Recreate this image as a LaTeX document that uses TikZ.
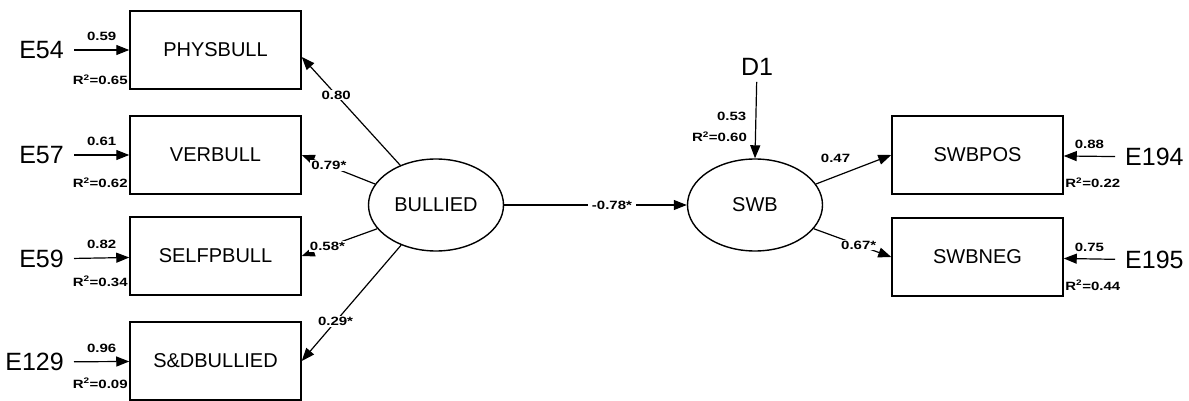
\documentclass[tikz,border=0pt]{standalone}
\usepackage{fontspec}
\setmainfont{Liberation Sans}
\newfontfamily\coeffont[FakeStretch=1.25]{Liberation Sans}
\usetikzlibrary{arrows.meta,shapes.geometric}

\tikzset{
  obs/.style={draw, line width=1.5pt, minimum width=171pt, minimum height=78pt, font=\fontsize{20}{20}\selectfont},
  lat/.style={ellipse, draw, line width=1.4pt, minimum width=135pt, minimum height=92pt, font=\fontsize{20}{20}\selectfont},
  err/.style={inner xsep=10pt, inner ysep=6pt, font=\fontsize{25}{25}\selectfont},
  coef/.style={inner sep=1pt, font=\coeffont\bfseries\fontsize{12}{12}\selectfont},
  link/.style={-{Triangle[length=13pt,width=10pt]}, line width=1.2pt},
}

\begin{document}
\begin{tikzpicture}[x=1pt,y=-1pt]
\clip (0,0) rectangle (1189,401);
% indicators of BULLIED
\node[obs] (phys) at (215.5,50) {PHYSBULL};
\node[obs] (verb) at (215.5,155) {VERBULL};
\node[obs] (selfp) at (215.5,256) {SELFPBULL};
\node[obs] (sdb) at (215.5,361) {S\&DBULLIED};
% latent variables
\node[lat] (bull) at (436,205) {BULLIED};
\node[lat] (swb) at (755,205) {SWB};
% indicators of SWB
\node[obs] (swbpos) at (977.5,155) {SWBPOS};
\node[obs] (swbneg) at (977.5,257) {SWBNEG};
% errors
\node[err, anchor=east] (e54) at (74,50) {E54};
\node[err, anchor=east] (e57) at (74,155) {E57};
\node[err, anchor=east] (e59) at (74,259) {E59};
\node[err, anchor=east] (e129) at (74,362) {E129};
\node[err, anchor=west] (e194) at (1115,157) {E194};
\node[err, anchor=west] (e195) at (1115,260) {E195};
\node[err] (d1) at (757,67) {D1};

\draw[link] (e54) -- (phys) node[coef, midway, above=8pt] {0.59}
  node[coef, pos=1, anchor=north east, yshift=-23pt] {R\textsuperscript{2}=0.65};
\draw[link] (e57) -- (verb) node[coef, midway, above=8pt] {0.61}
  node[coef, pos=1, anchor=north east, yshift=-21pt] {R\textsuperscript{2}=0.62};
\draw[link] (e59) -- (selfp) node[coef, midway, above=8pt] {0.82}
  node[coef, pos=1, anchor=north east, yshift=-17pt] {R\textsuperscript{2}=0.34};
\draw[link] (e129) -- (sdb) node[coef, midway, above=7pt] {0.96}
  node[coef, pos=1, anchor=north east, yshift=-15pt] {R\textsuperscript{2}=0.09};
\draw[link] (e194) -- (swbpos) node[coef, midway, above=6pt] {0.88}
  node[coef, pos=1, anchor=north west, yshift=-20pt] {R\textsuperscript{2}=0.22};
\draw[link] (e195) -- (swbneg) node[coef, midway, above=6pt] {0.75}
  node[coef, pos=1, anchor=north west, yshift=-20pt] {R\textsuperscript{2}=0.44};
\draw[link] (d1) -- (swb.north) node[coef, pos=0.45, left=8pt] {0.53}
  node[coef, pos=0.72, left=7pt] {R\textsuperscript{2}=0.60};

% loadings
\draw[link] (bull.132) -- ([yshift=-7pt]phys.east) node[coef, pos=0.65, fill=white] {0.80};
\draw[link] (bull.161) -- (verb.east) node[coef, pos=0.63, fill=white] {0.79*};
\draw[link] (bull.202) -- (selfp.east) node[coef, pos=0.66, fill=white] {0.58*};
\draw[link] (bull.229) -- (sdb.east) node[coef, pos=0.66, fill=white] {0.29*};
\draw[link] (bull) -- (swb) node[coef, pos=0.59, fill=white, inner xsep=4pt] {-0.78*};
\draw[link] (swb.19) -- (swbpos.west) node[coef, pos=0.26, above=12pt] {0.47};
\draw[link] (swb.338) -- (swbneg.west) node[coef, pos=0.58, fill=white] {0.67*};
\end{tikzpicture}
\end{document}
